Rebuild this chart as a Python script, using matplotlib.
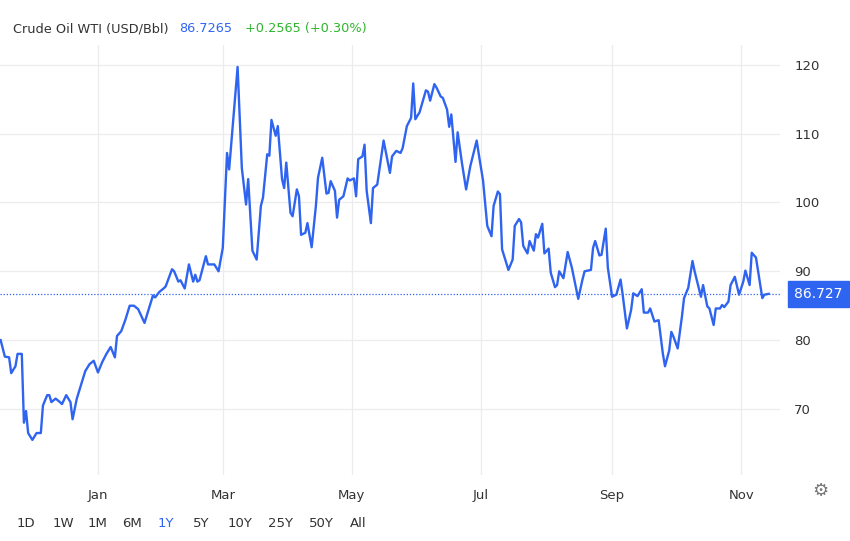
import pandas as pd
import matplotlib.pyplot as plt
import matplotlib.dates as mdates

# days since 2022-01-01 and WTI close (USD/Bbl)
days = [-46, -44, -42, -41, -39, -38, -36, -35, -34, -33, -31, -29, -27, -26, -24, -23, -22, -20, -18, -17,
        -15, -13, -12, -10, -8, -6, -4, -2, 0, 2, 4, 6, 8, 9, 11, 13, 15, 17, 19, 22, 25, 26, 27, 29, 31,
        32, 35, 36, 38, 39, 41, 43, 45, 46, 47, 48,
        51, 52, 55, 57, 59, 61, 62, 64, 66, 68, 70, 71, 73, 75, 77, 78, 80, 81, 82, 84, 85, 87, 88, 89,
        91, 92, 94, 95, 96, 98, 99, 101, 103, 104, 106, 108, 109, 110, 112, 113, 114, 116, 118, 119, 121,
        122, 123, 125, 126, 127, 129, 130, 132, 135, 138, 139, 141, 143, 144, 146, 148, 149, 150, 152, 155,
        156, 157, 159, 160, 162, 163, 165, 166, 167, 169, 170, 172, 174, 176, 179, 180, 182,
        184, 186, 187, 189, 190, 191, 193, 194, 196, 197, 199, 200, 201, 203, 204, 206, 207, 208, 210, 211,
        213, 214, 216, 217, 218, 220, 222, 224, 227, 229, 230, 233, 234, 235, 237, 238, 240, 241, 243, 245,
        247, 248, 250, 252, 253, 255, 257, 258, 260, 261, 263, 265, 267, 268, 270, 271, 272, 274, 276, 277,
        279, 281, 282, 285, 286, 288, 289, 291, 292, 294, 295, 296, 298, 299, 301, 303, 305, 306, 308, 309,
        311, 314, 315, 317]
price = [80.0, 77.6, 77.5, 75.2, 76.2, 78.0, 78.0, 68.0, 69.7, 66.5, 65.5, 66.5, 66.5, 70.5, 72.0, 72.0,
         71.0, 71.5, 71.0, 70.7, 72.0, 71.0, 68.5, 71.5, 73.5, 75.5, 76.5, 77.0, 75.3, 76.8, 78.0, 79.0,
         77.5, 80.6, 81.3, 83.0, 85.0, 85.0, 84.5, 82.5, 85.5, 86.5, 86.2, 87.0, 87.5, 87.8, 90.3, 90.0,
         88.5, 88.7, 87.5, 91.0, 88.5, 89.5, 88.5, 88.7,
         92.2, 91.0, 91.0, 90.0, 93.4, 107.2, 104.8, 112.3, 119.7, 105.0, 99.7, 103.4, 93.0, 91.7, 99.5,
         100.7, 107.0, 106.8, 112.0, 109.7, 111.1, 103.4, 102.1, 105.8, 98.5, 98.0, 101.9, 100.9, 95.3,
         95.6, 97.0, 93.5, 99.5, 103.6, 106.5, 101.3, 101.4, 103.1, 101.7, 97.8, 100.4, 100.9, 103.5, 103.2,
         103.5, 100.9, 106.3, 106.7, 108.4, 101.7, 97.0, 102.1, 102.6, 109.0, 104.3, 106.7, 107.5, 107.2,
         107.9, 111.1, 112.3, 117.3, 112.1, 113.1, 116.3, 116.1, 114.8, 117.2, 116.7, 115.4, 115.2, 113.5,
         111.0, 112.8, 105.9, 110.2, 105.8, 101.9, 105.3, 109.0, 107.0, 103.2,
         96.6, 95.1, 99.5, 101.6, 101.2, 93.2, 91.2, 90.2, 91.7, 96.6, 97.6, 97.1, 93.7, 92.6, 94.4, 93.0,
         95.4, 94.9, 96.9, 92.6, 93.3, 89.8, 87.7, 88.0, 90.0, 89.0, 92.8, 90.5, 86.0, 88.8, 90.0, 90.2,
         93.4, 94.4, 92.3, 92.4, 96.2, 90.5, 86.3, 86.6, 88.8, 86.6, 81.7, 84.4, 86.8, 86.4, 87.4, 84.0,
         84.0, 84.6, 82.7, 82.9, 78.0, 76.2, 78.5, 81.2, 80.5, 78.8, 83.4, 86.1, 87.6, 91.5, 90.0, 86.3,
         88.0, 84.9, 84.6, 82.2, 84.6, 84.6, 85.1, 84.8, 85.6, 88.0, 89.2, 86.6, 88.5, 90.1, 88.0, 92.7,
         92.0, 86.1, 86.6, 86.727]
last_price = 86.727
ranges = ['1D', '1W', '1M', '6M', '1Y', '5Y', '10Y', '25Y', '50Y', 'All']

dates = pd.Timestamp('2022-01-01') + pd.to_timedelta(days, unit='D')
blue = '#2f64f0'
grid = '#ececec'

fig = plt.figure(figsize=(8.5, 5.41), dpi=100)
ax = fig.add_axes([0, 0.122, 0.918, 0.795])
ax.plot(dates, price, color=blue, lw=1.7)
ax.axhline(last_price, color=blue, lw=0.9, ls=(0, (1, 1.5)))

ax.set_xlim(pd.Timestamp('2022-01-01') - pd.Timedelta(days=46.3),
            pd.Timestamp('2022-01-01') + pd.Timedelta(days=322.5))
ax.set_ylim(60.4, 122.9)
ax.xaxis.set_major_locator(mdates.MonthLocator(bymonth=[1, 3, 5, 7, 9, 11]))
ax.xaxis.set_major_formatter(mdates.DateFormatter('%b'))
ax.set_yticks([70, 80, 90, 100, 110, 120])
ax.yaxis.tick_right()
ax.grid(True, color=grid, lw=0.9)
for s in ax.spines.values():
    s.set_visible(False)
ax.tick_params(length=0, labelsize=9.5, colors='#333333')
ax.tick_params(axis='y', pad=10)
ax.tick_params(axis='x', pad=10)

# last price tag
ax.annotate(f'{last_price:.3f}', xy=(1.0, last_price), xycoords=('axes fraction', 'data'),
            xytext=(10, 0), textcoords='offset points', va='center', ha='left',
            color='white', fontsize=10,
            bbox=dict(boxstyle='square,pad=0.45', fc=blue, ec=blue))

fig.text(0.015, 0.947, 'Crude Oil WTI (USD/Bbl)', fontsize=9.3, color='#333333', va='center')
fig.text(0.211, 0.947, '86.7265', fontsize=9.3, color=blue, va='center')
fig.text(0.288, 0.947, '+0.2565 (+0.30%)', fontsize=9.3, color='#2db52d', va='center')

x0 = 0.02
for r in ranges:
    fig.text(x0, 0.033, r, fontsize=9.5, color=blue if r == '1Y' else '#333333', va='center')
    x0 += 0.0413 if len(r) < 3 else 0.048
fig.text(0.965, 0.092, '\u2699', fontsize=13, color='#777777', ha='center', va='center')

fig.savefig('out.png', dpi=100, facecolor='white')
